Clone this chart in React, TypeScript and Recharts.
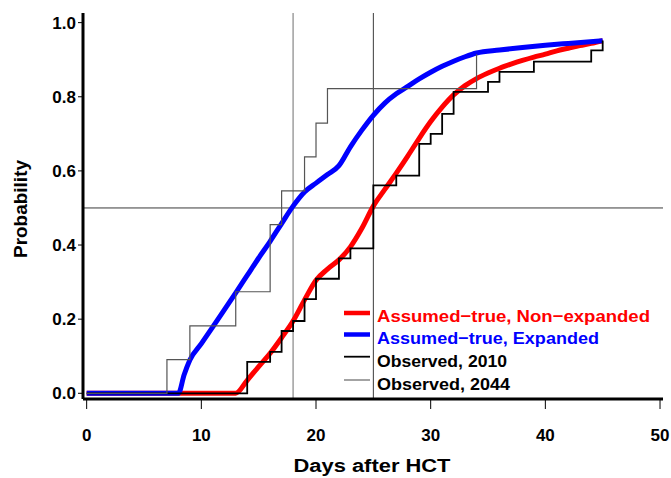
import React from "react";
import {
  ComposedChart,
  Line,
  XAxis,
  YAxis,
  ReferenceLine,
} from "recharts";

// smooth "assumed-true" curves
const redDays = [0, 13, 14, 15, 16, 17, 18, 19, 20, 21, 22, 23, 24, 25, 26, 27, 28, 29, 30, 31, 32, 33, 34, 35, 36, 37, 38, 39, 40, 41, 42, 43, 44, 45];
const redProb = [0, 0, 0.035, 0.072, 0.108, 0.15, 0.195, 0.252, 0.305, 0.335, 0.36, 0.395, 0.445, 0.505, 0.55, 0.594, 0.64, 0.688, 0.733, 0.772, 0.805, 0.83, 0.849, 0.864, 0.877, 0.888, 0.898, 0.907, 0.915, 0.924, 0.931, 0.938, 0.944, 0.951];

const blueDays = [0, 8, 8.5, 9, 10, 11, 12, 13, 14, 15, 16, 17, 18, 19, 20, 21, 22, 23, 24, 25, 26, 27, 28, 29, 30, 31, 32, 33, 34, 36, 38, 40, 42, 45];
const blueProb = [0, 0, 0.05, 0.09, 0.134, 0.179, 0.225, 0.271, 0.318, 0.365, 0.41, 0.458, 0.505, 0.543, 0.567, 0.59, 0.614, 0.665, 0.71, 0.75, 0.783, 0.808, 0.828, 0.848, 0.866, 0.882, 0.896, 0.908, 0.918, 0.926, 0.933, 0.939, 0.944, 0.951];

// observed step curves
const obs2010Days = [0, 14, 16, 17, 18, 19, 20, 22, 23, 25, 27, 29, 30, 31, 32, 35, 36, 39, 44, 45];
const obs2010Prob = [0, 0.085, 0.112, 0.168, 0.195, 0.254, 0.309, 0.364, 0.391, 0.561, 0.587, 0.673, 0.7, 0.754, 0.813, 0.84, 0.867, 0.895, 0.925, 0.952];

const obs2044Days = [0, 7, 9, 13, 16, 17, 19, 20, 21, 34];
const obs2044Prob = [0, 0.091, 0.182, 0.274, 0.455, 0.546, 0.638, 0.729, 0.822, 0.915];

const xTicks = [0, 10, 20, 30, 40, 50];
const yTicks = [0, 0.2, 0.4, 0.6, 0.8, 1.0];

const toPts = (xs: number[], ys: number[]) => xs.map((x, i) => ({ x, y: ys[i] }));

const FONT = "'Liberation Sans', Arial, Helvetica, sans-serif";

const XTick = (props: any) => {
  const { x, y, payload } = props;
  return (
    <text x={x} y={y + 30} textAnchor="middle" fontFamily={FONT} fontWeight="bold" fontSize={17} fill="#000">
      {payload.value}
    </text>
  );
};

const YTick = (props: any) => {
  const { x, y, payload } = props;
  return (
    <text x={x} y={y + 6} textAnchor="end" fontFamily={FONT} fontWeight="bold" fontSize={17} fill="#000">
      {Number(payload.value).toFixed(1)}
    </text>
  );
};

const legendRows = [
  { label: "Assumed\u2212true,  Non\u2212expanded", color: "#ff0000", stroke: "#ff0000", w: 4.5, lineY: 313, textY: 322, len: 273 },
  { label: "Assumed\u2212true,  Expanded", color: "#0000ff", stroke: "#0000ff", w: 4.5, lineY: 334.5, textY: 343.5, len: 222 },
  { label: "Observed, 2010", color: "#000", stroke: "#000", w: 1.8, lineY: 356.7, textY: 366.7, len: 130 },
  { label: "Observed, 2044", color: "#000", stroke: "#666", w: 1.2, lineY: 380, textY: 390, len: 133 },
];

export default function App() {
  return (
    <div style={{ position: "absolute", left: 0, top: 0, width: 671, height: 478, background: "#fff" }}>
      <ComposedChart width={671} height={478} margin={{ top: 13, right: 8, bottom: 39, left: 23 }}>
        <XAxis
          dataKey="x"
          type="number"
          domain={[-0.32, 50.26]}
          ticks={xTicks}
          allowDataOverflow
          height={40}
          axisLine={{ stroke: "#000", strokeWidth: 3 }}
          tickLine={{ stroke: "#000", strokeWidth: 1 }}
          tickSize={10}
          tickMargin={2}
          tick={<XTick />}
        />
        <YAxis
          type="number"
          domain={[-0.0154, 1.026]}
          ticks={yTicks}
          allowDataOverflow
          width={60}
          axisLine={{ stroke: "#000", strokeWidth: 3 }}
          tickLine={{ stroke: "#000", strokeWidth: 1 }}
          tickSize={5}
          tickMargin={2}
          tick={<YTick />}
        />
        <ReferenceLine x={18} stroke="#6e6e6e" strokeWidth={1} />
        <ReferenceLine x={25} stroke="#3a3a3a" strokeWidth={1} />
        <ReferenceLine y={0.5} stroke="#3a3a3a" strokeWidth={1} />
        <Line data={toPts(redDays, redProb)} dataKey="y" type="monotone" stroke="#ff0000" strokeWidth={5} dot={false} isAnimationActive={false} />
        <Line data={toPts(blueDays, blueProb)} dataKey="y" type="monotone" stroke="#0000ff" strokeWidth={5} dot={false} isAnimationActive={false} />
        <Line data={toPts(obs2010Days, obs2010Prob)} dataKey="y" type="stepAfter" stroke="#000" strokeWidth={1.8} dot={false} isAnimationActive={false} />
        <Line data={toPts(obs2044Days, obs2044Prob)} dataKey="y" type="stepAfter" stroke="#555" strokeWidth={1.2} dot={false} isAnimationActive={false} />
      </ComposedChart>
      <svg width={671} height={478} style={{ position: "absolute", left: 0, top: 0, pointerEvents: "none" }}>
        {legendRows.map((r) => (
          <g key={r.label}>
            <line x1={344} x2={370} y1={r.lineY} y2={r.lineY} stroke={r.stroke} strokeWidth={r.w} />
            <text x={377} y={r.textY} fontFamily={FONT} fontWeight="bold" fontSize={17} fill={r.color} textLength={r.len} lengthAdjust="spacingAndGlyphs">
              {r.label}
            </text>
          </g>
        ))}
        <text x={372} y={472} textAnchor="middle" fontFamily={FONT} fontWeight="bold" fontSize={18} fill="#000" textLength={157} lengthAdjust="spacingAndGlyphs">
          Days after HCT
        </text>
        <text x={0} y={0} transform="translate(27,209) rotate(-90)" textAnchor="middle" fontFamily={FONT} fontWeight="bold" fontSize={18} fill="#000" textLength={98} lengthAdjust="spacingAndGlyphs">
          Probability
        </text>
      </svg>
    </div>
  );
}
